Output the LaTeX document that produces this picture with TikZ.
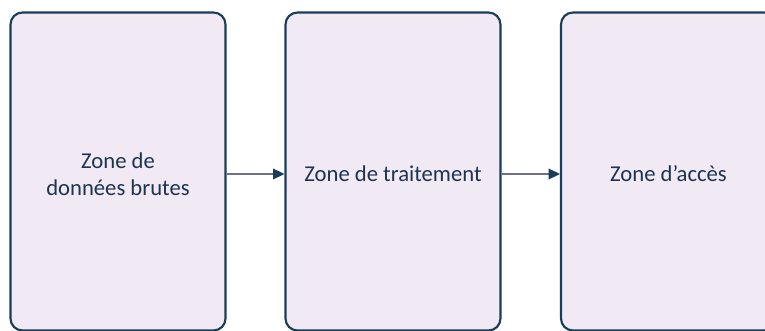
\documentclass[tikz,border=0pt]{standalone}
\usepackage{fontspec}
\setmainfont{Carlito}
\usetikzlibrary{arrows.meta}
\definecolor{zonefill}{RGB}{241,233,243}
\definecolor{zoneedge}{RGB}{25,62,90}
\definecolor{zonetext}{RGB}{28,52,82}
\definecolor{flowline}{RGB}{110,110,150}
\begin{document}
\begin{tikzpicture}[x=0.75pt,y=-0.75pt,
  zonebox/.style={draw=zoneedge,fill=zonefill,line width=1.6pt,rounded corners=9pt,
    minimum width=215*0.75pt,minimum height=318*0.75pt,inner sep=0pt},
  zonelabel/.style={text=zonetext,font=\fontsize{17pt}{20.25pt}\selectfont,align=center,inner sep=0pt},
  flow/.style={draw=flowline,line width=1.1pt,-{Triangle[length=8.5pt,width=8pt,fill=zoneedge,color=zoneedge]}}]
\useasboundingbox (0,0) rectangle (765,331);
\clip (0,0) rectangle (765,331);
% three processing zones
\node[zonebox] (b1) at (118,171.5) {};
\node[zonebox] (b2) at (393,171.5) {};
\node[zonebox] (b3) at (668.5,171.5) {};
% zone titles
\node[zonelabel] (t1) at (118,174) {Zone de\\données brutes};
\node[zonelabel] (t2) at (393,174) {Zone de traitement};
\node[zonelabel] (t3) at (668.5,174) {Zone d’accès};
% data flow between zones
\draw[flow] (b1.east |- t1) -- (b2.west |- t1);
\draw[flow] (b2.east |- t2) -- (b3.west |- t2);
\end{tikzpicture}
\end{document}
